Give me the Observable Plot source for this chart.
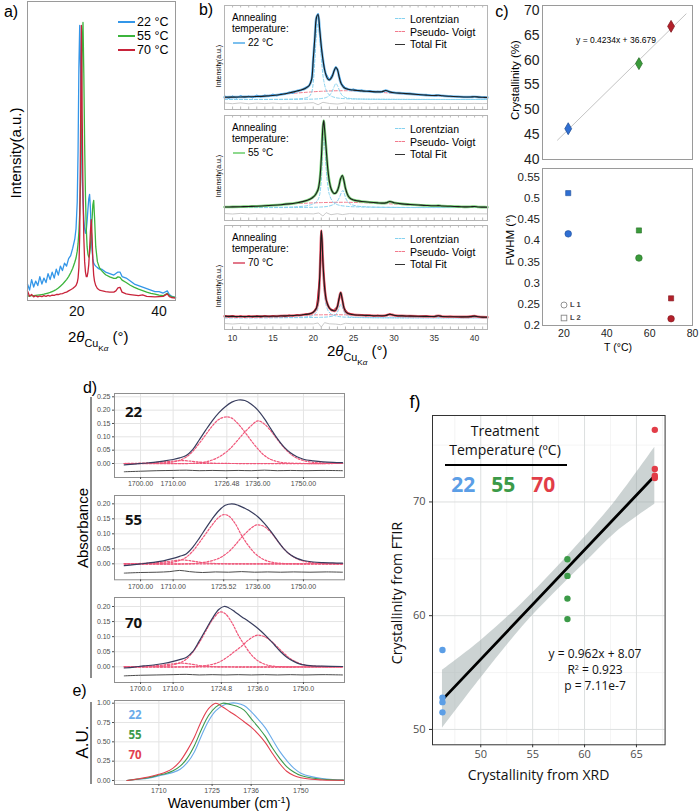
<!DOCTYPE html>
<html><head><meta charset="utf-8">
<script src="https://cdn.jsdelivr.net/npm/d3@7"></script>
<script src="https://cdn.jsdelivr.net/npm/@observablehq/plot@0.6"></script>
<style>
body{margin:0;background:#fff;}
#root{position:relative;width:700px;height:811px;overflow:hidden;background:#fff;}
</style></head><body><div id="root"></div>
<script>
// ---------------- Panel a: XRD patterns ----------------
const aTheta = [8,8.5,9,9.5,10,10.5,11,11.5,12,12.5,13,13.5,14,14.5,15,15.5,16,16.5,17,17.5,18,18.5,19,19.5,
  19.8,20.1,20.3,20.5,20.7,20.9,21.1,21.3,21.5,21.7,21.9,22.1,22.3,22.5,22.7,22.9,23.1,23.3,23.5,23.7,23.9,24.1,24.3,24.6,
  25,25.5,26,27,28,29,29.5,30,30.5,31,32,33,34,35,36,37,38,39,40,41,42,42.5,43,44];
const aI22 = [5.5,3.5,7,4.5,6.5,5,8,5.5,7.5,6,9,7,9.5,7.5,10.5,8.5,11.5,10,12.5,11.5,14,15,17.5,20.5,
  24,33,50,78,92,78,57,42,33,27,24,22.5,23.5,26.5,30.5,34,35.5,31,23,17,14,12.5,12,11.5,
  11,10.5,10.5,9.5,9,8.5,9,9.5,9.5,8,7.5,6.5,5.5,5,4.5,4,3.5,3,3,2.5,3.2,2,1.5,1];
const aI55 = [1.5,1.5,1.6,1.6,1.7,1.8,1.9,2,2.1,2.3,2.5,2.7,3,3.3,3.7,4.2,4.8,5.4,6.2,7,8,9.3,10.8,12.8,
  14.2,16.5,19,23,29,40,60,85,93,76,52,35,24,18,15.5,14.5,15.5,18,22,27,32,33.5,28,18,
  13,11,10,8.6,7.9,7.4,7.4,7.9,7.7,6.8,6,5.1,4.4,3.8,3.3,2.8,2.4,2.1,1.8,1.6,2.4,1.6,1.3,1];
const aI70 = [3.2,1.4,2,1.2,1.6,1.2,1.5,1.3,1.6,1.4,1.7,1.5,1.8,1.7,2,2,2.2,2.3,2.6,2.8,3.2,3.6,4,4.6,
  5,6,7.5,11,22,55,92,62,36,21,13,9.5,8,8,9.5,12,17,23,27,22,13,8.5,6.5,5,
  4,3.5,3.3,3,2.8,2.8,3.2,4.2,4.4,2.8,2.2,2,1.8,1.6,1.9,1.4,1.3,1.2,1.3,1.4,2.2,1.3,1,0.8];
const aTicks = [20, 40];
const aLegend = ["22 °C", "55 °C", "70 °C"];

// ---------------- Panel b: peak fits (intensity, a.u.) ----------------
const bTicks = [10,15,20,25,30,35,40];
const b22Fit = [[9,12.3],[10,12.4],[11,12.5],[12,12.7],[13,13],[14,13.4],[15,14],[16,15],[17,16.5],[18,18.5],[18.5,19.5],[19,21],[19.5,24],[19.8,30],[20,50],[20.2,72],[20.4,92],[20.6,95],[20.8,80],[21,63],[21.2,50],[21.4,40],[21.6,34],[21.8,30.5],[22,29.5],[22.2,31],[22.4,34],[22.6,39],[22.8,42],[23,40],[23.2,33],[23.4,27],[23.6,24],[23.8,22],[24,21],[24.3,20.3],[24.6,19.8],[25,19.4],[25.5,19],[26,18.6],[27,18.1],[28,17.6],[28.5,17.8],[29,19],[29.5,17.6],[30,16.8],[31,16.2],[32,15.6],[33,15],[34,14.4],[35,14],[35.5,14.2],[36,13.7],[37,13.2],[38,12.8],[39,12.5],[39.5,12.5],[40,12.8],[40.5,12.4],[41,12.2],[41.6,12]];
const b22Data = [[9,14],[9.5,11],[10,13.5],[10.5,11.5],[11,14],[11.5,12],[12,13.5],[12.5,11.5],[13,14.5],[13.5,12.5],[14,14.5],[14.5,13],[15,15.5],[15.5,13.5],[16,16],[16.5,15],[17,17.5],[17.5,16],[18,19],[18.5,19],[19,22],[19.5,23.5],[19.8,31],[20,51],[20.2,72],[20.4,93],[20.6,96],[20.8,80],[21,62],[21.2,50],[21.5,37],[22,30],[22.5,37],[22.8,43],[23.1,37],[23.5,26],[24,22],[24.5,19.5],[25,20.5],[25.5,18.5],[26,19.5],[26.5,18],[27,18.8],[27.5,17.3],[28,18.2],[28.5,17.5],[29,19.5],[29.5,17],[30,17.3],[31,15.8],[32,16.2],[33,14.6],[34,14.8],[35,13.7],[36,14],[37,12.9],[38,13.1],[39,12.2],[40,13],[41,12],[41.6,12.2]];
const b22L1 = [[9,10],[17,10.3],[18,10.6],[19,11.5],[19.5,13],[19.8,17],[20,27],[20.2,50],[20.4,76],[20.55,86],[20.7,80],[20.9,62],[21.1,42],[21.3,29],[21.6,19.5],[22,14.5],[22.5,12.5],[23,11.5],[24,10.8],[26,10.4],[41.6,10]];
const b22L2 = [[9,10],[20,10.4],[21,11],[21.6,12],[22,14],[22.3,17.5],[22.6,23],[22.8,26],[23,24],[23.3,18],[23.6,14],[24,12],[24.6,11],[26,10.4],[41.6,10]];
const b22PV = [[9,11.5],[12,13],[15,14.5],[18,16.5],[21,18.2],[24,18.8],[27,17.8],[30,16.2],[33,14.6],[36,13.3],[39,12.3],[41.6,11.7]];
const b22Res = [[9,6.5],[10,5.8],[11,6.6],[12,5.7],[13,6.4],[14,5.9],[15,6.5],[16,5.8],[17,6.3],[18,5.9],[19,6.4],[20,6.8],[20.6,4.8],[21.2,7.2],[22,6],[23,5.5],[24,6.5],[25,5.9],[26,6.3],[27,5.8],[28,6.2],[29,5.9],[30,6.2],[31,5.8],[32,6.1],[33,5.9],[34,6.2],[35,5.8],[36,6.1],[37,5.9],[38,6.1],[39,5.9],[40,6.1],[41,5.9],[41.6,6]];

const b55Fit = [[9,13.5],[10,13.6],[11,13.8],[12,14],[13,14.3],[14,14.7],[15,15.2],[16,15.8],[17,16.6],[18,17.8],[18.5,18.6],[19,19.6],[19.5,21],[19.8,22.3],[20,23.5],[20.2,25],[20.4,27.5],[20.6,31],[20.8,40],[21,62],[21.2,94],[21.3,100],[21.4,92],[21.6,72],[21.8,52],[22,39],[22.2,32],[22.4,28.5],[22.6,27],[22.8,27.5],[23,30],[23.2,35],[23.4,42],[23.6,45],[23.8,40],[24,32],[24.3,25],[24.6,22],[25,20.5],[25.5,19.6],[26,19],[27,18.2],[28,17.6],[28.5,17.4],[29,17.6],[29.5,19],[30,17.8],[31,16.6],[32,16],[33,15.5],[34,15],[35,14.7],[35.5,14.9],[36,14.5],[37,14.2],[38,13.9],[39,13.6],[39.5,13.7],[40,14],[40.5,13.5],[41,13.4],[41.6,13.3]];
const b55L1 = [[9,13],[17,13.4],[18,13.8],[19,14.5],[19.8,16],[20.2,17.5],[20.6,21],[20.8,26],[21,40],[21.15,65],[21.3,84],[21.45,72],[21.6,52],[21.8,35],[22,26],[22.4,19],[23,15.8],[24,14.3],[26,13.5],[41.6,13]];
const b55L2 = [[9,13],[21,13.5],[22,14.5],[22.6,16.5],[23,19.5],[23.3,24],[23.55,29],[23.7,30],[23.85,27],[24.1,21],[24.5,17],[25.2,14.8],[27,13.5],[41.6,13]];
const b55PV = [[9,13.2],[12,14.2],[15,15.5],[18,16.9],[21,17.9],[24,18.2],[27,17.6],[30,16.5],[33,15.4],[36,14.5],[39,13.8],[41.6,13.3]];
const b55Res = [[9,7],[10,6.5],[11,7.1],[12,6.6],[13,7],[14,6.6],[15,6.9],[16,6.5],[17,6.9],[18,6.6],[19,6.9],[20,6.6],[20.7,7.5],[21.2,4.5],[21.6,7.8],[22.2,5.8],[23,6.8],[23.6,5.9],[24.5,6.9],[26,6.5],[28,6.8],[30,6.4],[32,6.7],[34,6.6],[36,6.8],[38,6.6],[40,6.7],[41.6,6.6]];

const b70Fit = [[9,13.3],[10,13.1],[11,13],[12,13],[13,13.1],[14,13.2],[15,13.3],[16,13.5],[17,13.8],[18,14.2],[18.5,14.5],[19,15],[19.5,15.6],[19.8,16.3],[20,17.3],[20.2,18.8],[20.4,21.5],[20.6,28],[20.8,52],[20.9,78],[21,99],[21.1,88],[21.2,68],[21.4,42],[21.6,30],[21.8,24.5],[22,21.5],[22.2,19.8],[22.4,19],[22.6,18.6],[22.8,19.5],[23,23],[23.2,31],[23.4,37],[23.6,30],[23.8,22],[24,18],[24.3,16],[24.6,15.3],[25,14.8],[25.5,14.5],[26,14.3],[27,14],[28,13.8],[28.5,13.8],[29,14],[29.5,15.3],[30,14.3],[30.5,13.8],[31,13.6],[32,13.4],[33,13.2],[34,13.1],[35,13],[35.5,13.7],[36,13],[37,12.8],[38,12.7],[39,12.6],[39.5,12.9],[40,13.4],[40.5,12.7],[41,12.4],[41.6,12.3]];
const b70Data = [[9,14.5],[9.5,12.5],[10,14],[10.5,12.3],[11,13.8],[11.5,12.2],[12,13.9],[12.5,12.3],[13,13.8],[13.5,12.4],[14,14],[14.5,12.6],[15,14],[15.5,12.8],[16,14.2],[16.5,13],[17,14.5],[17.5,13.4],[18,14.8],[18.5,14],[19,15.5],[19.5,15.2],[20,17.5],[20.4,22],[20.8,53],[21,99],[21.2,67],[21.6,30],[22,21],[22.5,19.5],[23,23],[23.4,37],[23.8,22],[24.3,16.5],[25,15.2],[25.5,14],[26,14.8],[26.5,13.6],[27,14.5],[27.5,13.4],[28,14.3],[28.5,13.3],[29,14.4],[29.5,15.5],[30,14],[30.5,13.3],[31,14.1],[31.5,13],[32,13.9],[33,13],[34,13.6],[35,12.7],[35.5,13.9],[36,12.8],[37,13.3],[38,12.4],[39,13],[40,13.5],[41,12.2],[41.6,12.6]];
const b70L1 = [[9,11.7],[17,12],[18,12.2],[19,12.6],[19.8,13.5],[20.2,15.5],[20.5,19],[20.7,30],[20.85,55],[21,85],[21.1,75],[21.25,52],[21.4,36],[21.6,24],[21.9,18],[22.3,15],[23,13.2],[24,12.3],[26,11.9],[41.6,11.7]];
const b70L2 = [[9,11.7],[21,12.2],[22,12.8],[22.6,14],[22.9,16],[23.15,20],[23.35,24.5],[23.45,25],[23.6,22.5],[23.8,18],[24.1,14.5],[24.6,12.8],[26,12],[41.6,11.7]];
const b70PV = [[9,12.5],[12,13],[15,13.6],[18,14.2],[21,14.7],[24,14.7],[27,14.2],[30,13.6],[33,13.1],[36,12.8],[39,12.5],[41.6,12.3]];
const b70Res = [[9,6],[10,5.5],[11,6],[12,5.5],[13,5.9],[14,5.5],[15,5.8],[16,5.5],[17,5.8],[18,5.5],[19,5.7],[20,5.6],[20.6,6.5],[21,2.5],[21.4,6.8],[22,5.7],[22.8,5.4],[23.4,4.8],[24,6.2],[25,5.7],[26,5.9],[28,5.7],[30,5.5],[32,5.8],[34,5.6],[36,5.8],[38,5.6],[40,5.7],[41.6,5.6]];
const bLegend = ["Lorentzian", "Pseudo- Voigt", "Total Fit"];

// ---------------- Panel c ----------------
const cTemp = [22, 55, 70];
const cCryst = [46.2, 59.3, 66.8];
const cFwhmL1 = [0.416, 0.359, 0.216];
const cFwhmL2 = [0.512, 0.424, 0.264];
const cFitT = [17, 77];
const cFitCryst = [43.9, 69.3];
const cYTicksTop = [40,45,50,55,60,65,70];
const cYTicksBot = [0.2,0.25,0.3,0.35,0.4,0.45,0.5,0.55];
const cXTicks = [20,40,60,80];

// ---------------- Panel d: FTIR carbonyl fits ----------------
const d22XTicks = [1700,1710,1726.48,1736,1750], d22XLab = ["1700.00","1710.00","1726.48","1736.00","1750.00"];
const d55XTicks = [1700,1710,1725.52,1736,1750], d55XLab = ["1700.00","1710.00","1725.52","1736.00","1750.00"];
const d70XTicks = [1700,1710,1724.8,1736,1750], d70XLab = ["1700.0","1710.0","1724.8","1736.0","1750.0"];
const d22YTicks = [0,0.05,0.1,0.15,0.2,0.25];
const dYTicks = [0,0.05,0.1,0.15,0.2];
const dBase = [[1695,0],[1762,0]];
const d22Total = [[1695,-0.005],[1698,-0.002],[1701,0.001],[1704,0.004],[1707,0.009],[1710,0.015],[1712,0.021],[1714,0.03],[1716,0.052],[1718,0.088],[1720,0.125],[1722,0.16],[1724,0.19],[1726,0.213],[1728,0.23],[1730,0.238],[1732,0.236],[1734,0.222],[1736,0.2],[1738,0.168],[1740,0.13],[1742,0.093],[1744,0.062],[1746,0.04],[1748,0.025],[1750,0.016],[1753,0.01],[1756,0.006],[1759,0.004],[1762,0.003]];
const d22C1 = [[1695,0],[1705,0.001],[1710,0.006],[1712,0.012],[1714,0.024],[1716,0.045],[1718,0.075],[1720,0.108],[1722,0.14],[1724,0.165],[1726.5,0.175],[1728,0.17],[1730,0.148],[1732,0.118],[1734,0.085],[1736,0.055],[1738,0.03],[1740,0.015],[1742,0.007],[1744,0.003],[1747,0.001],[1750,0],[1762,0]];
const d22C2 = [[1695,0],[1715,0],[1718,0.003],[1720,0.006],[1722,0.013],[1724,0.024],[1726,0.04],[1728,0.062],[1730,0.09],[1732,0.118],[1734,0.142],[1736,0.16],[1738,0.148],[1740,0.122],[1742,0.09],[1744,0.06],[1746,0.036],[1748,0.02],[1750,0.011],[1753,0.004],[1756,0.002],[1762,0]];
const d22C3 = [[1695,0],[1702,0.002],[1706,0.005],[1710,0.009],[1713,0.011],[1716,0.008],[1719,0.004],[1723,0.001],[1728,0],[1762,0]];
const d22Res = [[1695,-0.031],[1700,-0.029],[1705,-0.027],[1710,-0.026],[1714,-0.025],[1718,-0.027],[1722,-0.026],[1726,-0.027],[1730,-0.026],[1734,-0.027],[1738,-0.025],[1742,-0.027],[1746,-0.026],[1750,-0.027],[1756,-0.026],[1762,-0.027]];
const d55Total = [[1695,-0.006],[1698,-0.003],[1701,0.001],[1704,0.005],[1707,0.01],[1710,0.018],[1712,0.025],[1714,0.033],[1716,0.055],[1718,0.085],[1720,0.118],[1722,0.15],[1724,0.177],[1726,0.195],[1728,0.2],[1730,0.195],[1732,0.185],[1734,0.173],[1736,0.157],[1738,0.135],[1740,0.108],[1742,0.078],[1744,0.05],[1746,0.03],[1748,0.018],[1750,0.011],[1753,0.006],[1756,0.004],[1759,0.003],[1762,0.002]];
const d55C1 = [[1695,0],[1705,0.001],[1710,0.006],[1712,0.011],[1714,0.022],[1716,0.042],[1718,0.07],[1720,0.1],[1722,0.13],[1724,0.155],[1725.5,0.164],[1727,0.16],[1729,0.135],[1731,0.095],[1733,0.062],[1735,0.036],[1737,0.019],[1739,0.009],[1741,0.004],[1744,0.001],[1750,0],[1762,0]];
const d55C2 = [[1695,0],[1715,0],[1720,0.006],[1724,0.018],[1727,0.04],[1729,0.062],[1731,0.088],[1733,0.11],[1735,0.127],[1736,0.13],[1738,0.124],[1740,0.105],[1742,0.077],[1744,0.05],[1746,0.03],[1748,0.017],[1750,0.009],[1754,0.002],[1762,0]];
const d55C3 = [[1695,0],[1702,0.002],[1706,0.005],[1710,0.01],[1713,0.013],[1716,0.009],[1719,0.004],[1723,0.001],[1728,0],[1762,0]];
const d55Res = [[1695,-0.031],[1700,-0.029],[1705,-0.028],[1709,-0.026],[1712,-0.022],[1715,-0.026],[1719,-0.029],[1723,-0.027],[1727,-0.028],[1731,-0.026],[1735,-0.028],[1739,-0.027],[1743,-0.028],[1747,-0.027],[1752,-0.028],[1757,-0.027],[1762,-0.028]];
const d70Total = [[1695,-0.004],[1698,-0.001],[1701,0.003],[1704,0.006],[1707,0.011],[1710,0.018],[1712,0.024],[1714,0.031],[1716,0.05],[1718,0.085],[1720,0.123],[1722,0.16],[1724,0.19],[1725.6,0.2],[1727,0.196],[1729,0.182],[1731,0.166],[1733,0.152],[1735,0.136],[1737,0.118],[1739,0.097],[1741,0.074],[1743,0.05],[1745,0.031],[1747,0.018],[1749,0.009],[1752,0.004],[1756,0.002],[1762,0.001]];
const d70C1 = [[1695,0],[1705,0.001],[1710,0.007],[1712,0.013],[1714,0.025],[1716,0.048],[1718,0.08],[1720,0.118],[1722,0.155],[1724.4,0.182],[1726,0.176],[1728,0.147],[1730,0.105],[1732,0.07],[1734,0.04],[1736,0.02],[1738,0.009],[1740,0.003],[1745,0],[1762,0]];
const d70C2 = [[1695,0],[1715,0],[1720,0.004],[1724,0.015],[1727,0.035],[1729,0.052],[1731,0.068],[1733,0.088],[1735,0.102],[1736,0.105],[1738,0.1],[1740,0.086],[1742,0.066],[1744,0.045],[1746,0.027],[1748,0.015],[1750,0.007],[1754,0.002],[1762,0]];
const d70C3 = [[1695,0],[1702,0.002],[1706,0.005],[1710,0.01],[1713,0.012],[1716,0.008],[1719,0.003],[1724,0],[1762,0]];
const d70Res = [[1695,-0.03],[1700,-0.028],[1705,-0.027],[1710,-0.026],[1714,-0.025],[1718,-0.027],[1722,-0.026],[1726,-0.027],[1730,-0.026],[1734,-0.027],[1738,-0.026],[1742,-0.027],[1746,-0.026],[1750,-0.027],[1756,-0.026],[1762,-0.027]];

// ---------------- Panel e: normalized spectra ----------------
const eWn = [1701,1704,1707,1710,1712,1714,1716,1718,1720,1722,1724,1726,1728,1730,1732,1734,1736,1738,1740,1742,1744,1746,1748,1750,1753,1756,1759,1762];
const eA22 = [0,0.015,0.03,0.06,0.08,0.105,0.145,0.23,0.37,0.58,0.77,0.9,0.97,1.0,1.0,0.97,0.89,0.79,0.68,0.53,0.38,0.26,0.16,0.095,0.05,0.025,0.012,0.006];
const eA55 = [0,0.018,0.035,0.07,0.09,0.125,0.185,0.29,0.45,0.66,0.84,0.95,1.0,0.985,0.96,0.91,0.8,0.69,0.57,0.42,0.29,0.18,0.11,0.065,0.032,0.016,0.008,0.004];
const eA70 = [0,0.02,0.045,0.08,0.11,0.16,0.25,0.39,0.56,0.77,0.93,1.0,0.95,0.89,0.83,0.76,0.69,0.6,0.49,0.35,0.22,0.12,0.065,0.035,0.015,0.007,0.003,0.001];
const eXTicks = [1710,1725,1736,1750];
const eYTicks = [0,0.25,0.5,0.75,1];

// ---------------- Panel f: FTIR vs XRD crystallinity ----------------
const fXrd  = [46.31,46.31,46.31,46.31,58.35,58.35,58.35,58.35,66.77,66.77,66.77,66.77];
const fFtir = [56.98,52.8,52.4,51.5,64.96,63.5,61.5,59.7,76.34,72.9,72.3,72.1];
const fTemp = [22,22,22,22,55,55,55,55,70,70,70,70];
const fFitX = [46.31, 66.77], fFitY = [52.62, 72.3];
const fBandX  = [46.31, 50, 54, 57, 60, 63, 66.77];
const fBandLo = [50.1, 54.5, 59.0, 61.9, 64.6, 67.3, 69.8];
const fBandHi = [55.2, 57.8, 61.1, 63.9, 66.9, 70.1, 74.8];
const fXTicks = [50,55,60,65], fXMinor = [47.5,52.5,57.5,62.5,67.5];
const fYTicks = [50,60,70], fYMinor = [55,65,75];
const tempLabels = ["22","55","70"];

// ---------------- rendering ----------------
const SANS = "'Liberation Sans', Arial, sans-serif";
const OPEN = "'Open Sans', 'Noto Sans', sans-serif";
const root = document.getElementById('root');
const pairs = a => a.map(([x, y]) => ({x, y}));
const zip = (xs, ys) => xs.map((x, i) => ({x, y: ys[i]}));

function place(svg, left, top) {
  svg.style.position = 'absolute';
  svg.style.left = left + 'px';
  svg.style.top = top + 'px';
  svg.style.overflow = 'visible';
  svg.style.background = 'transparent';
  root.append(svg);
}
function txt(html, x, y, o = {}) {
  const d = document.createElement('div');
  d.innerHTML = html;
  const s = d.style;
  s.position = 'absolute'; s.left = x + 'px'; s.top = y + 'px';
  s.whiteSpace = 'nowrap'; s.lineHeight = '1';
  s.fontSize = (o.size || 12) + 'px';
  s.fontFamily = o.family || SANS;
  s.color = o.color || '#000';
  if (o.weight) s.fontWeight = o.weight;
  const ax = o.anchor === 'start' ? '0' : o.anchor === 'end' ? '-100%' : '-50%';
  s.transform = `translate(${ax},-50%)` + (o.rotate ? ` rotate(${o.rotate}deg)` : '');
  root.append(d);
  return d;
}
function sw(x1, x2, y, color, w, style) {
  const d = document.createElement('div');
  Object.assign(d.style, {position: 'absolute', left: x1 + 'px', top: (y - w / 2) + 'px',
    width: (x2 - x1) + 'px', height: '0px', borderTop: `${w}px ${style || 'solid'} ${color}`});
  root.append(d);
}
function box(x, y, w, h, color) {
  const d = document.createElement('div');
  Object.assign(d.style, {position: 'absolute', left: x + 'px', top: y + 'px', width: w + 'px', height: h + 'px', background: color});
  root.append(d);
}

// ===== Panel a =====
const aCol = ['#3396e8', '#3cb43c', '#c8233a'];
place(Plot.plot({
  width: 180, height: 325, marginLeft: 27, marginRight: 5, marginTop: 1, marginBottom: 25,
  x: {domain: [8, 44], label: null}, y: {domain: [0, 100], axis: null, label: null},
  style: {fontFamily: SANS, fontSize: '14px', color: '#111'},
  marks: [
    Plot.line(zip(aTheta, aI22), {x: 'x', y: 'y', stroke: aCol[0], strokeWidth: 1.3}),
    Plot.line(zip(aTheta, aI55), {x: 'x', y: 'y', stroke: aCol[1], strokeWidth: 1.3}),
    Plot.line(zip(aTheta, aI70), {x: 'x', y: 'y', stroke: aCol[2], strokeWidth: 1.3}),
    Plot.frame({stroke: '#9a9a9a'}),
    Plot.axisX({ticks: aTicks, tickSize: 0, tickPadding: 6})
  ]
}), 0, 0);
txt('a)', 11, 12, {size: 16});
txt('Intensity(a.u.)', 15, 153, {size: 15, rotate: -90});
[21.5, 35.5, 49.5].forEach((y, i) => { sw(118, 135, y, aCol[i], 2); txt(aLegend[i], 137, y, {size: 12.5, anchor: 'start'}); });
const thetaLabel = `2<i>θ</i><span style="font-size:.72em;position:relative;top:.42em">Cu<span style="font-size:.75em;position:relative;top:.5em">K<i>α</i></span></span> (°)`;
txt(thetaLabel, 68, 337, {size: 15, anchor: 'start'});

// ===== Panel b =====
const bMinor = d3.range(10, 42);
function bPanel(top, h, fit, data, halo, dataCol, l1, l2, pv, res, axis) {
  const mb = axis ? 22 : 0;
  place(Plot.plot({
    width: 292, height: h + mb, marginLeft: 24, marginRight: 5, marginTop: 0, marginBottom: mb,
    x: {domain: [9, 41.6], label: null, axis: null}, y: {domain: [0, h], axis: null, label: null},
    style: {fontFamily: SANS, fontSize: '8.5px', color: '#333'},
    marks: [
      Plot.ruleX(bMinor, {y1: 0, y2: 2.5, stroke: '#bbb'}),
      Plot.ruleX(bMinor, {y1: h - 2.5, y2: h, stroke: '#bbb'}),
      Plot.line(pairs(pv), {x: 'x', y: 'y', stroke: '#f27a8c', strokeDasharray: '3,2', strokeWidth: 1, curve: 'catmull-rom'}),
      Plot.line(pairs(l1), {x: 'x', y: 'y', stroke: '#86d2f0', strokeDasharray: '3,2', strokeWidth: 1, curve: 'catmull-rom'}),
      Plot.line(pairs(l2), {x: 'x', y: 'y', stroke: '#86d2f0', strokeDasharray: '3,2', strokeWidth: 1, curve: 'catmull-rom'}),
      Plot.line(pairs(res), {x: 'x', y: 'y', stroke: '#bdbdbd', strokeWidth: 0.8}),
      Plot.line(pairs(fit), {x: 'x', y: 'y', stroke: halo, strokeWidth: 2.6, curve: 'catmull-rom'}),
      data ? Plot.line(pairs(data), {x: 'x', y: 'y', stroke: dataCol, strokeWidth: 1}) : null,
      Plot.line(pairs(fit), {x: 'x', y: 'y', stroke: '#1c1c1c', strokeWidth: 1.1, curve: 'catmull-rom'}),
      Plot.frame({stroke: '#b5b5b5'}),
      axis ? Plot.axisX({ticks: bTicks, tickSize: 0, tickPadding: 5}) : null
    ]
  }), 200, top);
}
bPanel(5, 104, b22Fit, b22Data, '#7cc0ee', '#3a9de6', b22L1, b22L2, b22PV, b22Res, false);
bPanel(115, 105, b55Fit, null, '#7ad27a', '#3cb43c', b55L1, b55L2, b55PV, b55Res, false);
bPanel(225, 104, b70Fit, b70Data, '#e8707e', '#c8233a', b70L1, b70L2, b70PV, b70Res, true);
txt('b)', 206, 10, {size: 16});
const bSw = ['#7cc0ee', '#8ed98e', '#e2788a'];
[0, 110, 220].forEach((o, i) => {
  txt('Annealing', 232, 18.3 + o, {size: 10, anchor: 'start'});
  txt('temperature:', 232, 28.6 + o, {size: 10, anchor: 'start'});
  sw(233, 245, 43 + o, bSw[i], 2.5);
  txt(aLegend[i], 248, 43 + o, {size: 10, anchor: 'start'});
  sw(395, 405, 19 + o, '#86d2f0', 1.5, 'dashed');
  sw(395, 405, 31.7 + o, '#f27a8c', 1.5, 'dashed');
  sw(395, 405, 44.3 + o, '#333', 1.5);
  bLegend.forEach((t, j) => txt(t, 410, [19, 31.7, 44.3][j] + o, {size: 10.5, anchor: 'start'}));
  txt('Intensity(a.u.)', 217.5, 66 + o, {size: 7, rotate: -90});
});
txt(thetaLabel, 327, 351, {size: 15, anchor: 'start'});

// ===== Panel c =====
const cCol = ['#2f6fd3', '#3a9b3a', '#b3202a'];
const cRows = cTemp.map((t, i) => ({t, c: cCryst[i], l1: cFwhmL1[i], l2: cFwhmL2[i], col: cCol[i], edge: d3.color(cCol[i]).darker(0.9).formatHex()}));
place(Plot.plot({
  width: 197, height: 162, marginLeft: 42, marginRight: 5, marginTop: 5, marginBottom: 3,
  x: {domain: [10, 80], axis: null, label: null}, y: {domain: [40, 71], label: null},
  style: {fontFamily: SANS, fontSize: '14px', color: '#222'},
  marks: [
    Plot.line(zip(cFitT, cFitCryst), {x: 'x', y: 'y', stroke: '#c4c4c4', strokeWidth: 1}),
    Plot.dot(cRows, {x: 't', y: 'c', symbol: 'diamond', r: 3.6, fill: 'col', stroke: 'edge', strokeWidth: 0.8}),
    Plot.frame({stroke: '#9a9a9a'}),
    Plot.axisY({ticks: cYTicksTop, tickSize: 0, tickPadding: 3})
  ]
}), 499.7, 0);
place(Plot.plot({
  width: 197, height: 178, marginLeft: 42, marginRight: 5, marginTop: 5, marginBottom: 16,
  x: {domain: [10, 80], label: null}, y: {domain: [0.2, 0.57], label: null},
  style: {fontFamily: SANS, fontSize: '11.5px', color: '#222'},
  marks: [
    Plot.dot(cRows, {x: 't', y: 'l2', symbol: 'square', r: 2.9, fill: 'col', stroke: 'edge', strokeWidth: 0.6}),
    Plot.dot(cRows, {x: 't', y: 'l1', symbol: 'circle', r: 3.3, fill: 'col', stroke: 'edge', strokeWidth: 0.6}),
    Plot.frame({stroke: '#9a9a9a'}),
    Plot.axisY({ticks: cYTicksBot, tickSize: 0, tickPadding: 2.5, tickFormat: d => String(d)}),
    Plot.axisX({ticks: cXTicks, tickSize: 0, tickPadding: 4, fontSize: 10.5})
  ]
}), 499.7, 163);
txt('c)', 502, 12, {size: 16});
txt('y = 0.4234x + 36.679', 616, 40, {size: 8.5});
txt('Crystallinity (%)', 516, 80, {size: 11.5, rotate: -90});
txt('FWHM (°)', 511, 240, {size: 11.5, rotate: -90});
txt('T (°C)', 618, 347, {size: 10.5});
txt('<svg width="8" height="8" style="display:block"><circle cx="4" cy="4" r="3" fill="none" stroke="#888" stroke-width="0.9"/></svg>', 564.3, 305);
txt('<svg width="8" height="8" style="display:block"><rect x="1.2" y="1.2" width="5.6" height="5.6" fill="none" stroke="#888" stroke-width="0.9"/></svg>', 564.3, 317.7);
txt('L 1', 570, 305, {size: 7.5, anchor: 'start', weight: 'bold', color: '#444'});
txt('L 2', 570, 317.7, {size: 7.5, anchor: 'start', weight: 'bold', color: '#444'});

// ===== Panel d =====
const f2 = d3.format('.2f');
function dPanel(frameTop, frameH, ydom, yTicks, xTicks, xLab, total, c1, c2, c3, res) {
  place(Plot.plot({
    width: 265, height: 3 + frameH + 14, marginLeft: 30, marginRight: 5, marginTop: 3, marginBottom: 14,
    x: {domain: [1692, 1762.6], label: null}, y: {domain: ydom, label: null},
    style: {fontFamily: SANS, fontSize: '7px', color: '#4d4d4d'},
    marks: [
      Plot.gridX(xTicks, {stroke: '#e4e4e4', strokeOpacity: 1}),
      Plot.gridY(yTicks, {stroke: '#e4e4e4', strokeOpacity: 1}),
      Plot.line(pairs(dBase), {x: 'x', y: 'y', stroke: '#f0577a', strokeDasharray: '2,1.6', strokeWidth: 1.2}),
      Plot.line(pairs(c3), {x: 'x', y: 'y', stroke: '#f0577a', strokeDasharray: '2,1.6', strokeWidth: 1.2, curve: 'catmull-rom'}),
      Plot.line(pairs(c1), {x: 'x', y: 'y', stroke: '#f0577a', strokeDasharray: '2,1.6', strokeWidth: 1.2, curve: 'catmull-rom'}),
      Plot.line(pairs(c2), {x: 'x', y: 'y', stroke: '#f0577a', strokeDasharray: '2,1.6', strokeWidth: 1.2, curve: 'catmull-rom'}),
      Plot.line(pairs(res), {x: 'x', y: 'y', stroke: '#4a4a4a', strokeWidth: 1, curve: 'catmull-rom'}),
      Plot.line(pairs(total), {x: 'x', y: 'y', stroke: '#383d5e', strokeWidth: 1.2, curve: 'catmull-rom'}),
      Plot.frame({stroke: '#8f8f8f'}),
      Plot.axisY({ticks: yTicks, tickSize: 2, tickPadding: 2, tickFormat: f2}),
      Plot.axisX({ticks: xTicks, tickSize: 2, tickPadding: 2, tickFormat: d => xLab[xTicks.indexOf(d)]})
    ]
  }), 84, frameTop - 3);
}
dPanel(392.7, 84, [-0.0525, 0.2624], d22YTicks, d22XTicks, d22XLab, d22Total, d22C1, d22C2, d22C3, d22Res);
dPanel(495, 84.3, [-0.0533, 0.2278], dYTicks, d55XTicks, d55XLab, d55Total, d55C1, d55C2, d55C3, d55Res);
dPanel(596.7, 85, [-0.052, 0.2298], dYTicks, d70XTicks, d70XLab, d70Total, d70C1, d70C2, d70C3, d70Res);
txt('d)', 90, 388, {size: 16});
txt('Absorbance', 81.7, 528, {size: 15, rotate: -90});
box(90, 397, 2.2, 281, '#8c8c8c');
[410.7, 519.3, 621.7].forEach((y, i) => txt(tempLabels[i], 133.5, y, {size: 15, weight: 'bold', family: OPEN, color: '#111'}));

// ===== Panel e =====
const eCol = ['#6aabea', '#3c9a4c', '#e2404f'];
place(Plot.plot({
  width: 265, height: 3 + 84 + 14, marginLeft: 30, marginRight: 5, marginTop: 3, marginBottom: 14,
  x: {domain: [1697.5, 1762.3], label: null}, y: {domain: [-0.052, 1.035], label: null},
  style: {fontFamily: SANS, fontSize: '7px', color: '#4d4d4d'},
  marks: [
    Plot.gridX(eXTicks, {stroke: '#e4e4e4', strokeOpacity: 1}),
    Plot.gridY(eYTicks, {stroke: '#e4e4e4', strokeOpacity: 1}),
    Plot.line(zip(eWn, eA22), {x: 'x', y: 'y', stroke: eCol[0], strokeWidth: 1.1, curve: 'catmull-rom'}),
    Plot.line(zip(eWn, eA55), {x: 'x', y: 'y', stroke: eCol[1], strokeWidth: 1.1, curve: 'catmull-rom'}),
    Plot.line(zip(eWn, eA70), {x: 'x', y: 'y', stroke: eCol[2], strokeWidth: 1.1, curve: 'catmull-rom'}),
    Plot.frame({stroke: '#8f8f8f'}),
    Plot.axisY({ticks: eYTicks, tickSize: 2, tickPadding: 2, tickFormat: f2}),
    Plot.axisX({ticks: eXTicks, tickSize: 2, tickPadding: 2, tickFormat: d => String(d)})
  ]
}), 84, 697);
txt('e)', 79.5, 691, {size: 16});
txt('A.U.', 81.7, 742, {size: 17, rotate: -90});
box(90, 702, 2.2, 82, '#8c8c8c');
[714.5, 735, 755].forEach((y, i) => txt(tempLabels[i], 135, y, {size: 11.5, weight: 'bold', family: OPEN, color: eCol[i]}));
txt('Wavenumber (cm<sup style="font-size:.65em;vertical-align:.55em">-1</sup>)', 229, 802.7, {size: 14});

// ===== Panel f =====
const fCol = {22: '#5b9ee6', 55: '#3c9a48', 70: '#e23d48'};
const fRows = fXrd.map((x, i) => ({x, y: fFtir[i], c: fCol[fTemp[i]]}));
const fBand = fBandX.map((x, i) => ({x, lo: fBandLo[i], hi: fBandHi[i]}));
place(Plot.plot({
  width: 272.6, height: 356.3, marginLeft: 35, marginRight: 5, marginTop: 5, marginBottom: 22,
  x: {domain: [45.35, 67.76], label: null}, y: {domain: [48.65, 77.6], label: null},
  style: {fontFamily: OPEN, fontSize: '11px', color: '#4d4d4d'},
  marks: [
    Plot.gridX(fXMinor, {stroke: '#efefef', strokeOpacity: 1, strokeWidth: 0.7}),
    Plot.gridY(fYMinor, {stroke: '#efefef', strokeOpacity: 1, strokeWidth: 0.7}),
    Plot.gridX(fXTicks, {stroke: '#dcdfdf', strokeOpacity: 1, strokeWidth: 1}),
    Plot.gridY(fYTicks, {stroke: '#dcdfdf', strokeOpacity: 1, strokeWidth: 1}),
    Plot.areaY(fBand, {x: 'x', y1: 'lo', y2: 'hi', fill: '#9aa8a8', fillOpacity: 0.5, curve: 'catmull-rom'}),
    Plot.line(zip(fFitX, fFitY), {x: 'x', y: 'y', stroke: '#000', strokeWidth: 2.8}),
    Plot.dot(fRows, {x: 'x', y: 'y', r: 3.2, fill: 'c'}),
    Plot.frame({stroke: '#333'}),
    Plot.axisX({ticks: fXTicks, tickSize: 3, tickPadding: 2, stroke: '#333'}),
    Plot.axisY({ticks: fYTicks, tickSize: 3, tickPadding: 4, stroke: '#333'})
  ]
}), 396.7, 410);
txt('f)', 415, 402, {size: 18});
txt('Treatment', 505, 430.7, {size: 14, family: OPEN, color: '#111'});
txt('Temperature (ºC)', 505, 450, {size: 14, family: OPEN, color: '#111'});
box(445, 464, 121.7, 1.6, '#000');
[463.3, 503.3, 543.3].forEach((x, i) => txt(tempLabels[i], x, 484, {size: 21, weight: 'bold', family: OPEN, color: fCol[cTemp[i]]}));
txt('y = 0.962x + 8.07', 595, 654, {size: 12, family: OPEN, color: '#111'});
txt('R<sup style="font-size:.6em;vertical-align:.6em">2</sup> = 0.923', 595, 670, {size: 12, family: OPEN, color: '#111'});
txt('p = 7.11e-7', 595, 686, {size: 12, family: OPEN, color: '#111'});
txt('Crystallinity from XRD', 538.5, 775, {size: 14, family: OPEN, color: '#111'});
txt('Crystallinity from FTIR', 396.7, 593.3, {size: 14, family: OPEN, color: '#111', rotate: -90});
</script></body></html>
